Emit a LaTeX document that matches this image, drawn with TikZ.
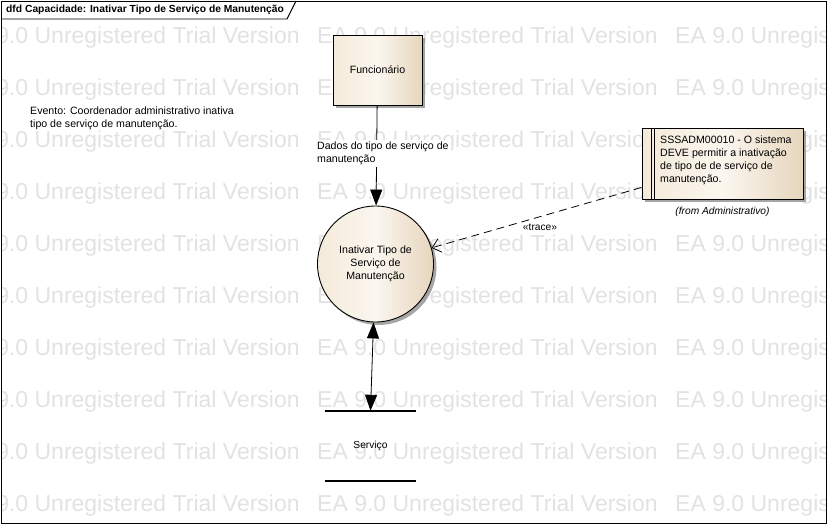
\documentclass[tikz,border=0pt]{standalone}
\usepackage{fontspec}
\setmainfont{Liberation Sans}
\usetikzlibrary{arrows.meta,shadows}
\definecolor{eaLeft}{RGB}{244,234,218}
\definecolor{eaMid}{RGB}{251,246,239}
\definecolor{eaRight}{RGB}{230,214,189}
\definecolor{wmark}{RGB}{226,226,226}

\begin{document}
\begin{tikzpicture}[x=1pt,y=-1pt,
	txt/.style={font=\fontsize{10.6}{13}\selectfont,inner sep=0pt},
	smalltxt/.style={font=\fontsize{10.2}{12}\selectfont,inner sep=0pt},
	wmarktxt/.style={font=\fontsize{23}{26}\selectfont,text=wmark,inner sep=0pt,anchor=base west},
	eafill/.style={left color=eaLeft,right color=eaRight,middle color=eaMid},
	eashadow/.style={drop shadow={shadow xshift=3pt,shadow yshift=-3pt,fill=black!50,opacity=.7}},
	entity/.style={txt,draw,line width=.9pt,eafill,eashadow,minimum width=89pt,minimum height=70pt},
	process/.style={txt,circle,draw,line width=.9pt,eafill,eashadow,minimum size=116pt,align=center},
	reqbox/.style={draw,line width=.9pt,eafill,eashadow,minimum width=161pt,minimum height=71pt,inner sep=0pt},
	store/.style={smalltxt,minimum width=91pt,minimum height=70pt},
	storeline/.style={line width=1.8pt},
	flow/.style={line width=.8pt},
	dfdtip/.tip={Triangle[length=16pt,width=12pt]},
	trace/.style={line width=.8pt,dash pattern=on 8pt off 5pt,-{Straight Barb[length=8pt,width=14pt]}}
	]
	\useasboundingbox (0,0) rectangle (828,525);
	
	\begin{scope}
	\clip (1,1) rectangle (826,523);
	\foreach \r in {0,...,9}
		\foreach \c in {0,1,2}
			\node[wmarktxt] (wm-\r-\c) at (-41+358*\c,43+52*\r) {EA 9.0 Unregistered Trial Version};
	\end{scope}
	
	\draw[line width=.9pt] (1,1) rectangle (826,523);
	\draw[line width=.9pt] (1,19) -- (287,19) -- (296,1);
	\node[txt,font=\bfseries\fontsize{10.3}{12}\selectfont,anchor=west] (title) at (6,10) {dfd Capacidade: Inativar Tipo de Serviço de Manutenção};
	
	\node[txt,anchor=west,align=left] (evento) at (30,118) {Evento: Coordenador administrativo inativa\\tipo de serviço de manutenção.};
	
	\node[entity] (func) at (377.5,70) {Funcionário};
	\node[process] (proc) at (375.5,264) {Inativar Tipo de\\Serviço de\\Manutenção};
	
	\node[reqbox] (req) at (722.5,163.5) {};
	\draw[line width=.9pt] ([xshift=10pt]req.north west) -- ([xshift=10pt]req.south west)
		([xshift=13pt]req.north west) -- ([xshift=13pt]req.south west);
	\node[txt,anchor=west,align=left] (reqtxt) at (660,160) {SSSADM00010 - O sistema\\DEVE permitir a inativação\\de tipo de de serviço de\\manutenção.};
	\node[smalltxt,font=\itshape\fontsize{10.2}{12}\selectfont] (reqfrom) at (722.5,212) {(from Administrativo)};
	
	\node[store] (serv) at (370.5,446) {Serviço};
	\draw[storeline] (serv.north west) -- (serv.north east) (serv.south west) -- (serv.south east);
	
	\draw[flow,-dfdtip] (func) -- (proc);
	\node[txt,fill=white,inner sep=2pt,align=left,anchor=west] (dados) at (315,153.5) {Dados do tipo de serviço de\\manutenção};
	\draw[flow,dfdtip-dfdtip] (proc) -- (serv.north);
	\draw[trace] ([yshift=12pt]req.south west) -- (proc);
	\node[smalltxt] (tracelbl) at (540,227) {«trace»};
	
\end{tikzpicture}
\end{document}
